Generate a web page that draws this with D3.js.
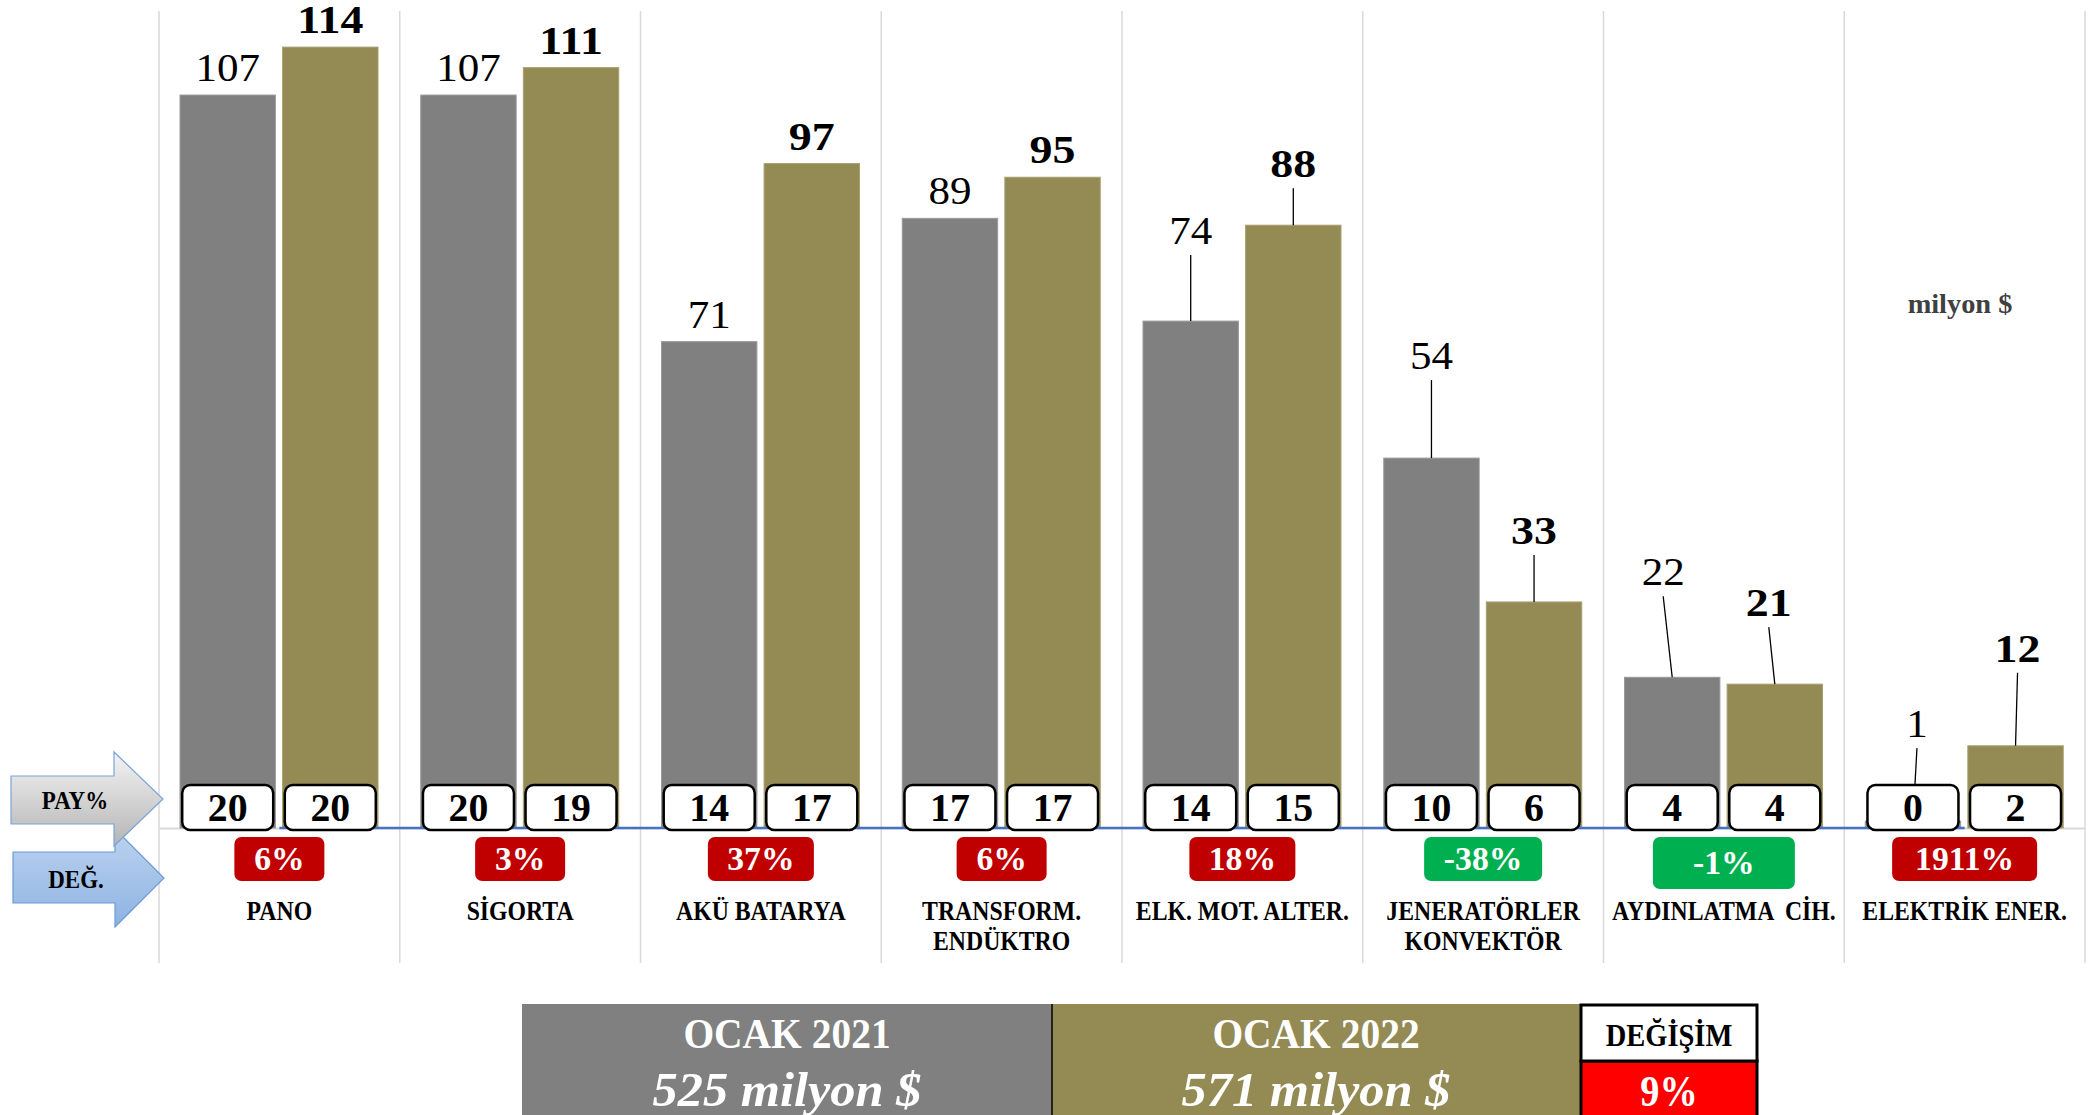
<!DOCTYPE html>
<html><head><meta charset="utf-8">
<script src="https://cdn.jsdelivr.net/npm/d3@7"></script>
<style>
html,body{margin:0;padding:0;background:#fff;overflow:hidden}
svg{display:block}
text{font-family:"Liberation Serif","DejaVu Serif",serif;white-space:pre}
</style></head><body>
<svg id="chart" width="2097" height="1115"></svg>
<script>
// Product groups (multi-line labels)
const categories = [["PANO"],["SİGORTA"],["AKÜ BATARYA"],["TRANSFORM.","ENDÜKTRO"],["ELK. MOT. ALTER."],["JENERATÖRLER","KONVEKTÖR"],["AYDINLATMA  CİH."],["ELEKTRİK ENER."]];
const periods = ["OCAK 2021","OCAK 2022"];
// Export values, million $
const exports2021 = [107,107,71,89,74,54,22,1];
const exports2022 = [114,111,97,95,88,33,21,12];
// Share in total, %
const share2021 = [20,20,14,17,14,10,4,0];
const share2022 = [20,19,17,17,15,6,4,2];
// Change 2021 -> 2022, %
const changePct = [6,3,37,6,18,-38,-1,1911];
const totals = [525,571];
const totalChangePct = 9;

// Label placement: extra lift (px) for labels hung on a leader line, and sideways nudge
const liftGray  = [0,0,0,0,63,75,78,70];
const liftOlive = [0,0,0,0,34,44,54,70];
const shiftGray  = [0,0,0,0,0,0,-9,4];
const shiftOlive = [0,0,0,0,0,0,-6,2];
const badgeWidth = [90,90,106,90,106,118,142,145];

const C_GRAY = "#808080", C_OLIVE = "#948A54";
const svg = d3.select("#chart");
const names = categories.map(c => c.join(" "));

const x0 = d3.scaleBand().domain(names).range([159, 2085]).padding(0);
const x1 = d3.scaleBand().domain(periods).range([21, 219]).paddingInner(0.07);
const y = d3.scaleLinear().domain([0, 120]).range([828, 6]);
const base = y(0);

function label(parent, x, yy, str, o) {
  return parent.append("text")
    .attr("transform", `translate(${x},${yy}) scale(${o.sx ?? 1},1)`)
    .attr("text-anchor", o.anchor || "middle")
    .attr("font-size", o.size)
    .attr("font-weight", o.weight || "bold")
    .attr("font-style", o.italic ? "italic" : "normal")
    .attr("fill", o.fill || "#000")
    .text(str);
}

// vertical separators between groups
svg.append("g").selectAll("line")
  .data(x0.domain().map(d => x0(d)).concat([x0.range()[1]]))
  .join("line")
  .attr("x1", d => d).attr("x2", d => d)
  .attr("y1", 11).attr("y2", 963)
  .attr("stroke", "#D9D9D9").attr("stroke-width", 1.5);

// category axis baseline
const axis = svg.append("g").attr("transform", `translate(0,${base})`)
  .call(d3.axisBottom(x0).tickSize(0).tickFormat(""));
axis.select(".domain").attr("stroke", "#D9D9D9").attr("stroke-width", 2);

// bars
const rows = names.map((n, i) => ({ n, i, vals: [exports2021[i], exports2022[i]], shares: [share2021[i], share2022[i]] }));
const groups = svg.append("g").selectAll("g").data(rows).join("g")
  .attr("transform", d => `translate(${x0(d.n)},0)`);

groups.selectAll("rect.bar")
  .data(d => periods.map((p, k) => ({ p, k, v: d.vals[k], i: d.i })))
  .join("rect").attr("class", "bar")
  .attr("x", d => x1(d.p)).attr("width", x1.bandwidth())
  .attr("y", d => y(d.v)).attr("height", d => base - y(d.v))
  .attr("fill", d => d.k === 0 ? C_GRAY : C_OLIVE)
  .attr("stroke", d => d.k === 0 ? "#9A9A9A" : "#A8A070").attr("stroke-width", 1);

// blue reference line across group centres
svg.append("line")
  .attr("x1", x0(names[0]) + x0.bandwidth() / 2)
  .attr("x2", x0(names[names.length - 1]) + x0.bandwidth() / 2)
  .attr("y1", base).attr("y2", base)
  .attr("stroke", "#4472C4").attr("stroke-width", 2.5);

// value labels + leader lines
rows.forEach(r => {
  periods.forEach((p, k) => {
    const v = r.vals[k];
    const cx = x0(r.n) + x1(p) + x1.bandwidth() / 2;
    const lift = k === 0 ? liftGray[r.i] : liftOlive[r.i];
    const dx = k === 0 ? shiftGray[r.i] : shiftOlive[r.i];
    const by = y(v) - 14 - lift;
    if (lift > 0) {
      svg.append("line")
        .attr("x1", cx + dx).attr("y1", by + 11)
        .attr("x2", cx).attr("y2", y(v))
        .attr("stroke", "#000").attr("stroke-width", 1.3);
    }
    label(svg, cx + dx, by, String(v), k === 0 ? { size: 41, weight: "normal", sx: 1.05 } : { size: 41, sx: 1.12 });
  });
});

// share boxes
rows.forEach(r => {
  periods.forEach((p, k) => {
    const cx = x0(r.n) + x1(p) + x1.bandwidth() / 2;
    svg.append("rect")
      .attr("x", cx - 45.5).attr("y", 785).attr("width", 91).attr("height", 45)
      .attr("rx", 8).attr("fill", "#fff").attr("stroke", "#000").attr("stroke-width", 2.5);
    label(svg, cx, 821, String(r.shares[k]), { size: 39, sx: 1.02 });
  });
});

// change badges
rows.forEach(r => {
  const cx = x0(r.n) + x0.bandwidth() / 2;
  const v = changePct[r.i];
  const w = badgeWidth[r.i];
  const h = v === -1 ? 52 : 44;
  svg.append("rect")
    .attr("x", cx - w / 2).attr("y", 837).attr("width", w).attr("height", h)
    .attr("rx", 7).attr("fill", v < 0 ? "#00B050" : "#C00000");
  label(svg, cx, 837 + h / 2 + 11, v + "%", { size: 33, fill: "#fff", sx: 1.02 });
});

// category names
rows.forEach(r => {
  const cx = x0(r.n) + x0.bandwidth() / 2;
  categories[r.i].forEach((line, j) => {
    label(svg, cx, 920 + j * 30, line, { size: 27, sx: 0.88 });
  });
});

// unit note
label(svg, 1960, 313, "milyon $", { size: 27, fill: "#404040", sx: 1.05 });

// side arrows
const defs = svg.append("defs");
const g1 = defs.append("linearGradient").attr("id", "gPay").attr("x1", 0).attr("x2", 0).attr("y1", 0).attr("y2", 1);
g1.append("stop").attr("offset", 0).attr("stop-color", "#F4F4F4");
g1.append("stop").attr("offset", 1).attr("stop-color", "#B4B4B4");
const g2 = defs.append("linearGradient").attr("id", "gDeg").attr("x1", 0).attr("x2", 0).attr("y1", 0).attr("y2", 1);
g2.append("stop").attr("offset", 0).attr("stop-color", "#BCD3F0");
g2.append("stop").attr("offset", 1).attr("stop-color", "#8DB3E2");

function arrow(xa, xb, xt, yb0, yb1, yh0, yh1) {
  const ym = (yh0 + yh1) / 2;
  return `M${xa},${yb0}L${xb},${yb0}L${xb},${yh0}L${xt},${ym}L${xb},${yh1}L${xb},${yb1}L${xa},${yb1}Z`;
}
svg.append("path").attr("d", arrow(13, 115, 164, 852, 903, 829, 927))
  .attr("fill", "url(#gDeg)").attr("stroke", "#6C9BD2").attr("stroke-width", 1.2);
svg.append("path").attr("d", arrow(11, 114, 163, 776, 824, 752, 846))
  .attr("fill", "url(#gPay)").attr("stroke", "#7BA4D6").attr("stroke-width", 1.2);
label(svg, 75, 809, "PAY%", { size: 25, sx: 0.92 });
label(svg, 76, 888, "DEĞ.", { size: 25, sx: 0.92 });

// totals table
const tb = svg.append("g");
tb.append("rect").attr("x", 522).attr("y", 1004).attr("width", 530).attr("height", 140).attr("fill", C_GRAY);
tb.append("rect").attr("x", 1052).attr("y", 1004).attr("width", 529).attr("height", 140).attr("fill", C_OLIVE);
tb.append("line").attr("x1", 1052).attr("x2", 1052).attr("y1", 1004).attr("y2", 1115).attr("stroke", "#000").attr("stroke-width", 1.5);
tb.append("rect").attr("x", 1581).attr("y", 1061).attr("width", 176).attr("height", 80).attr("fill", "#FF0000").attr("stroke", "#000").attr("stroke-width", 3);
tb.append("rect").attr("x", 1581).attr("y", 1005).attr("width", 176).attr("height", 56).attr("fill", "#fff").attr("stroke", "#000").attr("stroke-width", 3);
[787, 1316].forEach((cx, k) => {
  label(tb, cx, 1048, periods[k], { size: 42, fill: "#fff", sx: 0.94 });
  label(tb, cx, 1106, totals[k] + " milyon $", { size: 48, fill: "#fff", italic: true, sx: 1.05 });
});
label(tb, 1669, 1046, "DEĞİŞİM", { size: 32, sx: 0.89 });
label(tb, 1669, 1106, totalChangePct + "%", { size: 44, fill: "#fff", sx: 0.87 });
</script>
</body></html>
